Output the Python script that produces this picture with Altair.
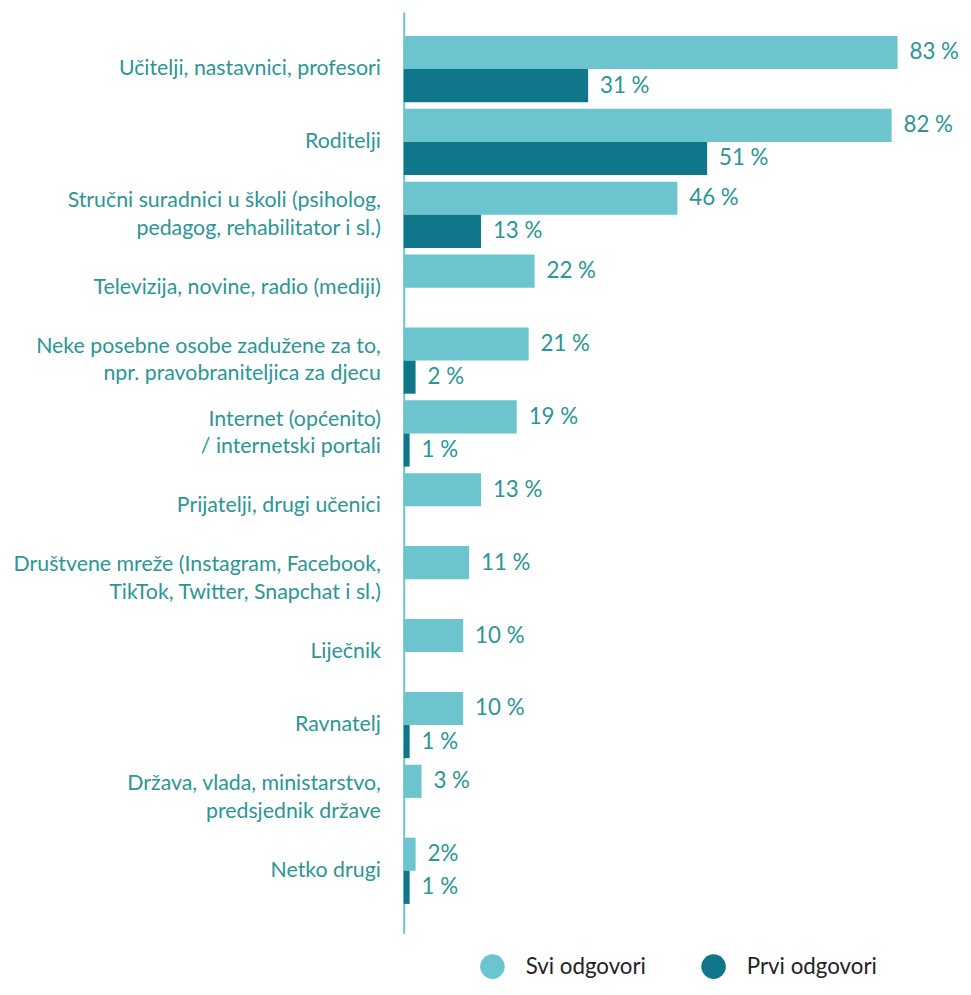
import altair as alt
import pandas as pd

categories = [
    "Učitelji, nastavnici, profesori",
    "Roditelji",
    "Stručni suradnici u školi (psiholog,|pedagog, rehabilitator i sl.)",
    "Televizija, novine, radio (mediji)",
    "Neke posebne osobe zadužene za to,|npr. pravobraniteljica za djecu",
    "Internet (općenito)|/ internetski portali",
    "Prijatelji, drugi učenici",
    "Društvene mreže (Instagram, Facebook,|TikTok, Twitter, Snapchat i sl.)",
    "Liječnik",
    "Ravnatelj",
    "Država, vlada, ministarstvo,|predsjednik države",
    "Netko drugi",
]
svi_values = [83, 82, 46, 22, 21, 19, 13, 11, 10, 10, 3, 2]
svi_labels = ["83 %", "82 %", "46 %", "22 %", "21 %", "19 %", "13 %", "11 %", "10 %", "10 %", "3 %", "2%"]
prvi_values = [31, 51, 13, None, 2, 1, None, None, None, 1, None, 1]
prvi_labels = ["31 %", "51 %", "13 %", None, "2 %", "1 %", None, None, None, "1 %", None, "1 %"]
series = ["Svi odgovori", "Prvi odgovori"]
colors = ["#6cc5ce", "#10768a"]

rows = []
for c, v, l in zip(categories, svi_values, svi_labels):
    rows.append({"cat": c, "series": series[0], "value": v, "label": l})
for c, v, l in zip(categories, prvi_values, prvi_labels):
    if v is not None:
        rows.append({"cat": c, "series": series[1], "value": v, "label": l})
df = pd.DataFrame(rows)
cat_df = pd.DataFrame({"cat": categories})

FONT = "Lato"
FS = 22.5
CFS = 21.5
TEAL = "#2a9696"

y_scale = alt.Scale(domain=categories, paddingInner=0, paddingOuter=0.32, align=0.44)
y_enc = alt.Y(
    "cat:N",
    sort=categories,
    scale=y_scale,
    axis=alt.Axis(
        title=None,
        ticks=False,
        labels=False,
        domainColor="#6cc5ce",
        domainWidth=2,
    ),
)
yoff = alt.YOffset("series:N", scale=alt.Scale(domain=series, paddingInner=0, paddingOuter=0.1))
x_enc = alt.X("value:Q", scale=alt.Scale(domain=[0, 94]), axis=None)

base = alt.Chart(df)

bars = base.mark_bar(cornerRadius=0).encode(
    x=x_enc,
    y=y_enc,
    yOffset=yoff,
    color=alt.Color(
        "series:N",
        scale=alt.Scale(domain=series, range=colors),
        legend=alt.Legend(
            title=None,
            orient="none",
            legendX=77,
            legendY=950,
            direction="horizontal",
            symbolType="circle",
            symbolSize=615,
            symbolStrokeWidth=0,
            labelFont=FONT,
            labelFontSize=FS,
            labelColor="#222222",
            labelOffset=21,
            columnPadding=55,
            padding=0,
        ),
    ),
)

texts = base.mark_text(align="left", baseline="middle", dx=12, font=FONT, fontSize=FS, color=TEAL).encode(
    x=x_enc,
    y=y_enc,
    yOffset=yoff,
    text="label:N",
)

cat_base = alt.Chart(cat_df).transform_calculate(
    nl="length(split(datum.cat, '|'))",
)
cat_single = cat_base.transform_filter("datum.nl == 1").mark_text(
    align="right", baseline="middle", font=FONT, fontSize=CFS, color=TEAL
).encode(
    x=alt.value(-23),
    y=alt.Y("cat:N", sort=categories, scale=y_scale),
    text="cat:N",
)
cat_double = cat_base.transform_filter("datum.nl == 2").mark_text(
    align="right", baseline="middle", dy=-14, lineHeight=28, lineBreak="|", font=FONT, fontSize=CFS, color=TEAL
).encode(
    x=alt.value(-23),
    y=alt.Y("cat:N", sort=categories, scale=y_scale),
    text="cat:N",
)

chart = (
    alt.layer(bars, texts, cat_single, cat_double)
    .properties(
        width=564,
        height=929,
        autosize=alt.AutoSizeParams(type="none"),
        padding={"left": 399, "top": 0, "right": 0, "bottom": 50},
    )
    .configure_view(stroke=None)
)

chart.save("out.html", embed_options={"renderer": "svg", "actions": False})
